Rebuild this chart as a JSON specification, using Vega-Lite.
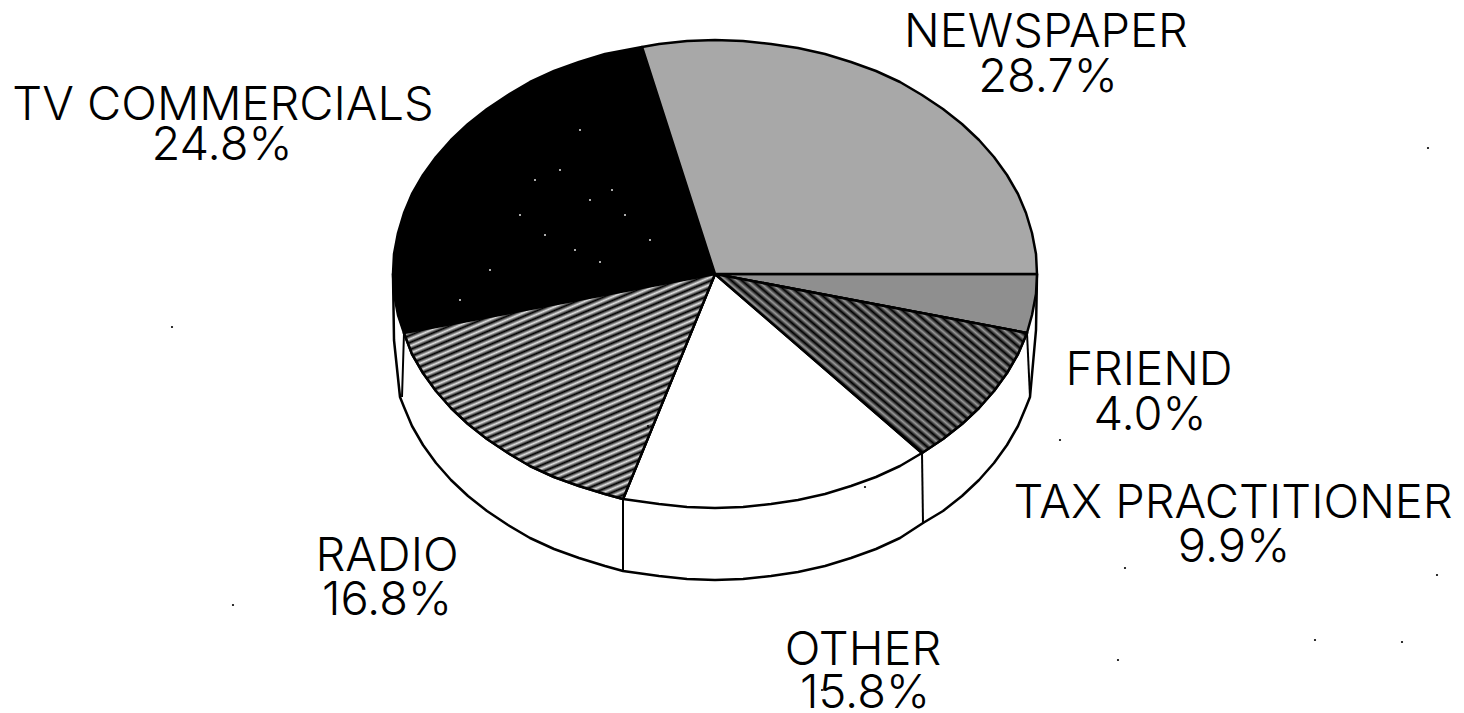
{"$schema":"https://vega.github.io/schema/vega-lite/v6.json","width":1464,"height":713,"padding":0,"autosize":"none","background":"white","config":{"view":{"stroke":null}},"datasets":{"outline":[
{"slice":"rim","seq":1,"x":1037,"y":274},{"slice":"rim","seq":2,"x":1036,"y":330},{"slice":"rim","seq":3,"x":1030,"y":397},{"slice":"rim","seq":4,"x":1026,"y":407},{"slice":"rim","seq":5,"x":1018,"y":426},{"slice":"rim","seq":6,"x":1007,"y":445},{"slice":"rim","seq":7,"x":994,"y":463},{"slice":"rim","seq":8,"x":979,"y":480},{"slice":"rim","seq":9,"x":962,"y":496},{"slice":"rim","seq":10,"x":943,"y":511},{"slice":"rim","seq":11,"x":923,"y":523},{"slice":"rim","seq":12,"x":900,"y":538},{"slice":"rim","seq":13,"x":876,"y":549},{"slice":"rim","seq":14,"x":851,"y":558},{"slice":"rim","seq":15,"x":825,"y":566},{"slice":"rim","seq":16,"x":798,"y":572},{"slice":"rim","seq":17,"x":771,"y":576},{"slice":"rim","seq":18,"x":743,"y":579},{"slice":"rim","seq":19,"x":715,"y":580},{"slice":"rim","seq":20,"x":687,"y":579},{"slice":"rim","seq":21,"x":659,"y":576},{"slice":"rim","seq":22,"x":623,"y":571},{"slice":"rim","seq":23,"x":605,"y":566},{"slice":"rim","seq":24,"x":579,"y":558},{"slice":"rim","seq":25,"x":554,"y":549},{"slice":"rim","seq":26,"x":530,"y":538},{"slice":"rim","seq":27,"x":508,"y":525},{"slice":"rim","seq":28,"x":487,"y":511},{"slice":"rim","seq":29,"x":468,"y":496},{"slice":"rim","seq":30,"x":451,"y":480},{"slice":"rim","seq":31,"x":436,"y":463},{"slice":"rim","seq":32,"x":423,"y":445},{"slice":"rim","seq":33,"x":412,"y":426},{"slice":"rim","seq":34,"x":404,"y":407},{"slice":"rim","seq":35,"x":400,"y":397},{"slice":"rim","seq":36,"x":394,"y":340},{"slice":"rim","seq":37,"x":393,"y":274},{"slice":"rim","seq":38,"x":1037,"y":274},
{"slice":"FRIEND","seq":1,"x":715,"y":274},{"slice":"FRIEND","seq":2,"x":1037,"y":274},{"slice":"FRIEND","seq":3,"x":1036,"y":294},{"slice":"FRIEND","seq":4,"x":1032,"y":315},{"slice":"FRIEND","seq":5,"x":1027,"y":333},{"slice":"FRIEND","seq":6,"x":715,"y":274},
{"slice":"TAX PRACTITIONER","seq":1,"x":715,"y":274},{"slice":"TAX PRACTITIONER","seq":2,"x":1027,"y":333},{"slice":"TAX PRACTITIONER","seq":3,"x":1018,"y":354},{"slice":"TAX PRACTITIONER","seq":4,"x":1007,"y":373},{"slice":"TAX PRACTITIONER","seq":5,"x":994,"y":391},{"slice":"TAX PRACTITIONER","seq":6,"x":979,"y":408},{"slice":"TAX PRACTITIONER","seq":7,"x":962,"y":424},{"slice":"TAX PRACTITIONER","seq":8,"x":943,"y":439},{"slice":"TAX PRACTITIONER","seq":9,"x":922,"y":453},{"slice":"TAX PRACTITIONER","seq":10,"x":715,"y":274},
{"slice":"OTHER","seq":1,"x":715,"y":274},{"slice":"OTHER","seq":2,"x":922,"y":453},{"slice":"OTHER","seq":3,"x":900,"y":466},{"slice":"OTHER","seq":4,"x":876,"y":477},{"slice":"OTHER","seq":5,"x":851,"y":486},{"slice":"OTHER","seq":6,"x":825,"y":494},{"slice":"OTHER","seq":7,"x":798,"y":500},{"slice":"OTHER","seq":8,"x":771,"y":504},{"slice":"OTHER","seq":9,"x":743,"y":507},{"slice":"OTHER","seq":10,"x":715,"y":508},{"slice":"OTHER","seq":11,"x":687,"y":507},{"slice":"OTHER","seq":12,"x":659,"y":504},{"slice":"OTHER","seq":13,"x":623,"y":499},{"slice":"OTHER","seq":14,"x":715,"y":274},
{"slice":"RADIO","seq":1,"x":715,"y":274},{"slice":"RADIO","seq":2,"x":623,"y":499},{"slice":"RADIO","seq":3,"x":605,"y":494},{"slice":"RADIO","seq":4,"x":579,"y":486},{"slice":"RADIO","seq":5,"x":554,"y":477},{"slice":"RADIO","seq":6,"x":530,"y":466},{"slice":"RADIO","seq":7,"x":508,"y":453},{"slice":"RADIO","seq":8,"x":487,"y":439},{"slice":"RADIO","seq":9,"x":468,"y":424},{"slice":"RADIO","seq":10,"x":451,"y":408},{"slice":"RADIO","seq":11,"x":436,"y":391},{"slice":"RADIO","seq":12,"x":423,"y":373},{"slice":"RADIO","seq":13,"x":412,"y":354},{"slice":"RADIO","seq":14,"x":404,"y":333},{"slice":"RADIO","seq":15,"x":715,"y":274},
{"slice":"TV COMMERCIALS","seq":1,"x":715,"y":274},{"slice":"TV COMMERCIALS","seq":2,"x":404,"y":333},{"slice":"TV COMMERCIALS","seq":3,"x":398,"y":315},{"slice":"TV COMMERCIALS","seq":4,"x":394,"y":294},{"slice":"TV COMMERCIALS","seq":5,"x":393,"y":274},{"slice":"TV COMMERCIALS","seq":6,"x":394,"y":254},{"slice":"TV COMMERCIALS","seq":7,"x":398,"y":233},{"slice":"TV COMMERCIALS","seq":8,"x":404,"y":213},{"slice":"TV COMMERCIALS","seq":9,"x":412,"y":194},{"slice":"TV COMMERCIALS","seq":10,"x":423,"y":175},{"slice":"TV COMMERCIALS","seq":11,"x":436,"y":157},{"slice":"TV COMMERCIALS","seq":12,"x":451,"y":140},{"slice":"TV COMMERCIALS","seq":13,"x":468,"y":124},{"slice":"TV COMMERCIALS","seq":14,"x":487,"y":109},{"slice":"TV COMMERCIALS","seq":15,"x":508,"y":95},{"slice":"TV COMMERCIALS","seq":16,"x":530,"y":82},{"slice":"TV COMMERCIALS","seq":17,"x":554,"y":71},{"slice":"TV COMMERCIALS","seq":18,"x":579,"y":62},{"slice":"TV COMMERCIALS","seq":19,"x":605,"y":54},{"slice":"TV COMMERCIALS","seq":20,"x":642,"y":47},{"slice":"TV COMMERCIALS","seq":21,"x":715,"y":274},
{"slice":"NEWSPAPER","seq":1,"x":715,"y":274},{"slice":"NEWSPAPER","seq":2,"x":642,"y":47},{"slice":"NEWSPAPER","seq":3,"x":659,"y":44},{"slice":"NEWSPAPER","seq":4,"x":687,"y":41},{"slice":"NEWSPAPER","seq":5,"x":715,"y":40},{"slice":"NEWSPAPER","seq":6,"x":743,"y":41},{"slice":"NEWSPAPER","seq":7,"x":771,"y":44},{"slice":"NEWSPAPER","seq":8,"x":798,"y":48},{"slice":"NEWSPAPER","seq":9,"x":825,"y":54},{"slice":"NEWSPAPER","seq":10,"x":851,"y":62},{"slice":"NEWSPAPER","seq":11,"x":876,"y":71},{"slice":"NEWSPAPER","seq":12,"x":900,"y":82},{"slice":"NEWSPAPER","seq":13,"x":922,"y":95},{"slice":"NEWSPAPER","seq":14,"x":943,"y":109},{"slice":"NEWSPAPER","seq":15,"x":962,"y":124},{"slice":"NEWSPAPER","seq":16,"x":979,"y":140},{"slice":"NEWSPAPER","seq":17,"x":994,"y":157},{"slice":"NEWSPAPER","seq":18,"x":1007,"y":175},{"slice":"NEWSPAPER","seq":19,"x":1018,"y":194},{"slice":"NEWSPAPER","seq":20,"x":1026,"y":213},{"slice":"NEWSPAPER","seq":21,"x":1032,"y":233},{"slice":"NEWSPAPER","seq":22,"x":1036,"y":254},{"slice":"NEWSPAPER","seq":23,"x":1037,"y":274},{"slice":"NEWSPAPER","seq":24,"x":715,"y":274}
],"dividers":[
{"edge":"a","seq":1,"x":1027,"y":333},{"edge":"a","seq":2,"x":1030,"y":397},
{"edge":"b","seq":1,"x":922,"y":453},{"edge":"b","seq":2,"x":923,"y":523},
{"edge":"c","seq":1,"x":623,"y":499},{"edge":"c","seq":2,"x":623,"y":571},
{"edge":"d","seq":1,"x":404,"y":333},{"edge":"d","seq":2,"x":402,"y":397}
],"labels":[
{"slice":"NEWSPAPER","share":0.287,"nameX":1046,"nameY":47,"shareX":1048,"shareY":92},
{"slice":"TV COMMERCIALS","share":0.248,"nameX":223,"nameY":120,"shareX":222,"shareY":160},
{"slice":"FRIEND","share":0.04,"nameX":1149,"nameY":385,"shareX":1150,"shareY":430},
{"slice":"TAX PRACTITIONER","share":0.099,"nameX":1233,"nameY":518,"shareX":1234,"shareY":562},
{"slice":"RADIO","share":0.168,"nameX":387,"nameY":571,"shareX":387,"shareY":615},
{"slice":"OTHER","share":0.158,"nameX":863,"nameY":665,"shareX":865,"shareY":708}
],"specks":[{"x":172,"y":327},{"x":233,"y":605},{"x":1428,"y":148},{"x":1125,"y":568},{"x":648,"y":426},{"x":865,"y":487},{"x":1118,"y":660},{"x":1315,"y":640},{"x":1402,"y":642},{"x":1437,"y":575},{"x":1060,"y":440},{"x":822,"y":690}],
"whiteSpecks":[{"x":535,"y":180},{"x":560,"y":170},{"x":590,"y":200},{"x":612,"y":190},{"x":625,"y":215},{"x":545,"y":235},{"x":575,"y":250},{"x":600,"y":262},{"x":520,"y":215},{"x":490,"y":270},{"x":650,"y":240},{"x":580,"y":130},{"x":460,"y":300}]},
"layer":[
{"data":{"name":"outline"},"mark":{"type":"line","stroke":"black","strokeWidth":2.5,"strokeJoin":"round"},"encoding":{"x":{"field":"x","type":"quantitative","scale":{"domain":[0,1464],"nice":false,"zero":false},"axis":null},"y":{"field":"y","type":"quantitative","scale":{"domain":[713,0],"nice":false,"zero":false},"axis":null},"order":{"field":"seq","type":"quantitative"},"fill":{"field":"slice","type":"nominal","legend":null,"scale":{"domain":["rim","FRIEND","TAX PRACTITIONER","OTHER","RADIO","TV COMMERCIALS","NEWSPAPER"],"range":["#ffffff","#8f8f8f","#404040","#ffffff","#707070","#000000","#a8a8a8"]}},"detail":{"field":"slice"}}},
{"data":{"name":"outline"},"transform":[{"filter":"datum.slice === 'RADIO'"}],"mark":{"type":"line","stroke":"black","strokeWidth":2.5,"strokeJoin":"round","fill":{"gradient":"linear","x1":0,"y1":0,"x2":0.684,"y2":1.183,"stops":[{"offset":0,"color":"#000"},{"offset":0.01,"color":"#e0e0e0"},{"offset":0.02,"color":"#000"},{"offset":0.03,"color":"#e0e0e0"},{"offset":0.04,"color":"#000"},{"offset":0.05,"color":"#e0e0e0"},{"offset":0.06,"color":"#000"},{"offset":0.07,"color":"#e0e0e0"},{"offset":0.08,"color":"#000"},{"offset":0.09,"color":"#e0e0e0"},{"offset":0.1,"color":"#000"},{"offset":0.11,"color":"#e0e0e0"},{"offset":0.12,"color":"#000"},{"offset":0.13,"color":"#e0e0e0"},{"offset":0.14,"color":"#000"},{"offset":0.15,"color":"#e0e0e0"},{"offset":0.16,"color":"#000"},{"offset":0.17,"color":"#e0e0e0"},{"offset":0.18,"color":"#000"},{"offset":0.19,"color":"#e0e0e0"},{"offset":0.2,"color":"#000"},{"offset":0.21,"color":"#e0e0e0"},{"offset":0.22,"color":"#000"},{"offset":0.23,"color":"#e0e0e0"},{"offset":0.24,"color":"#000"},{"offset":0.25,"color":"#e0e0e0"},{"offset":0.26,"color":"#000"},{"offset":0.27,"color":"#e0e0e0"},{"offset":0.28,"color":"#000"},{"offset":0.29,"color":"#e0e0e0"},{"offset":0.3,"color":"#000"},{"offset":0.31,"color":"#e0e0e0"},{"offset":0.32,"color":"#000"},{"offset":0.33,"color":"#e0e0e0"},{"offset":0.34,"color":"#000"},{"offset":0.35,"color":"#e0e0e0"},{"offset":0.36,"color":"#000"},{"offset":0.37,"color":"#e0e0e0"},{"offset":0.38,"color":"#000"},{"offset":0.39,"color":"#e0e0e0"},{"offset":0.4,"color":"#000"},{"offset":0.41,"color":"#e0e0e0"},{"offset":0.42,"color":"#000"},{"offset":0.43,"color":"#e0e0e0"},{"offset":0.44,"color":"#000"},{"offset":0.45,"color":"#e0e0e0"},{"offset":0.46,"color":"#000"},{"offset":0.47,"color":"#e0e0e0"},{"offset":0.48,"color":"#000"},{"offset":0.49,"color":"#e0e0e0"},{"offset":0.5,"color":"#000"},{"offset":0.51,"color":"#e0e0e0"},{"offset":0.52,"color":"#000"},{"offset":0.53,"color":"#e0e0e0"},{"offset":0.54,"color":"#000"},{"offset":0.55,"color":"#e0e0e0"},{"offset":0.56,"color":"#000"},{"offset":0.57,"color":"#e0e0e0"},{"offset":0.58,"color":"#000"},{"offset":0.59,"color":"#e0e0e0"},{"offset":0.6,"color":"#000"},{"offset":0.61,"color":"#e0e0e0"},{"offset":0.62,"color":"#000"},{"offset":0.63,"color":"#e0e0e0"},{"offset":0.64,"color":"#000"},{"offset":0.65,"color":"#e0e0e0"},{"offset":0.66,"color":"#000"},{"offset":0.67,"color":"#e0e0e0"},{"offset":0.68,"color":"#000"},{"offset":0.69,"color":"#e0e0e0"},{"offset":0.7,"color":"#000"},{"offset":0.71,"color":"#e0e0e0"},{"offset":0.72,"color":"#000"},{"offset":0.73,"color":"#e0e0e0"},{"offset":0.74,"color":"#000"},{"offset":0.75,"color":"#e0e0e0"},{"offset":0.76,"color":"#000"},{"offset":0.77,"color":"#e0e0e0"},{"offset":0.78,"color":"#000"},{"offset":0.79,"color":"#e0e0e0"},{"offset":0.8,"color":"#000"},{"offset":0.81,"color":"#e0e0e0"},{"offset":0.82,"color":"#000"},{"offset":0.83,"color":"#e0e0e0"},{"offset":0.84,"color":"#000"},{"offset":0.85,"color":"#e0e0e0"},{"offset":0.86,"color":"#000"},{"offset":0.87,"color":"#e0e0e0"},{"offset":0.88,"color":"#000"},{"offset":0.89,"color":"#e0e0e0"},{"offset":0.9,"color":"#000"},{"offset":0.91,"color":"#e0e0e0"},{"offset":0.92,"color":"#000"},{"offset":0.93,"color":"#e0e0e0"},{"offset":0.94,"color":"#000"},{"offset":0.95,"color":"#e0e0e0"},{"offset":0.96,"color":"#000"},{"offset":0.97,"color":"#e0e0e0"},{"offset":0.98,"color":"#000"},{"offset":0.99,"color":"#e0e0e0"},{"offset":1,"color":"#000"}]}},"encoding":{"x":{"field":"x","type":"quantitative","axis":null},"y":{"field":"y","type":"quantitative","axis":null},"order":{"field":"seq","type":"quantitative"}}},
{"data":{"name":"outline"},"transform":[{"filter":"datum.slice === 'TAX PRACTITIONER'"}],"mark":{"type":"line","stroke":"black","strokeWidth":2.5,"strokeJoin":"round","fill":{"gradient":"linear","x1":0,"y1":1,"x2":1.15,"y2":0.223,"stops":[{"offset":0,"color":"#000"},{"offset":0.01,"color":"#999"},{"offset":0.02,"color":"#000"},{"offset":0.03,"color":"#999"},{"offset":0.04,"color":"#000"},{"offset":0.05,"color":"#999"},{"offset":0.06,"color":"#000"},{"offset":0.07,"color":"#999"},{"offset":0.08,"color":"#000"},{"offset":0.09,"color":"#999"},{"offset":0.1,"color":"#000"},{"offset":0.11,"color":"#999"},{"offset":0.12,"color":"#000"},{"offset":0.13,"color":"#999"},{"offset":0.14,"color":"#000"},{"offset":0.15,"color":"#999"},{"offset":0.16,"color":"#000"},{"offset":0.17,"color":"#999"},{"offset":0.18,"color":"#000"},{"offset":0.19,"color":"#999"},{"offset":0.2,"color":"#000"},{"offset":0.21,"color":"#999"},{"offset":0.22,"color":"#000"},{"offset":0.23,"color":"#999"},{"offset":0.24,"color":"#000"},{"offset":0.25,"color":"#999"},{"offset":0.26,"color":"#000"},{"offset":0.27,"color":"#999"},{"offset":0.28,"color":"#000"},{"offset":0.29,"color":"#999"},{"offset":0.3,"color":"#000"},{"offset":0.31,"color":"#999"},{"offset":0.32,"color":"#000"},{"offset":0.33,"color":"#999"},{"offset":0.34,"color":"#000"},{"offset":0.35,"color":"#999"},{"offset":0.36,"color":"#000"},{"offset":0.37,"color":"#999"},{"offset":0.38,"color":"#000"},{"offset":0.39,"color":"#999"},{"offset":0.4,"color":"#000"},{"offset":0.41,"color":"#999"},{"offset":0.42,"color":"#000"},{"offset":0.43,"color":"#999"},{"offset":0.44,"color":"#000"},{"offset":0.45,"color":"#999"},{"offset":0.46,"color":"#000"},{"offset":0.47,"color":"#999"},{"offset":0.48,"color":"#000"},{"offset":0.49,"color":"#999"},{"offset":0.5,"color":"#000"},{"offset":0.51,"color":"#999"},{"offset":0.52,"color":"#000"},{"offset":0.53,"color":"#999"},{"offset":0.54,"color":"#000"},{"offset":0.55,"color":"#999"},{"offset":0.56,"color":"#000"},{"offset":0.57,"color":"#999"},{"offset":0.58,"color":"#000"},{"offset":0.59,"color":"#999"},{"offset":0.6,"color":"#000"},{"offset":0.61,"color":"#999"},{"offset":0.62,"color":"#000"},{"offset":0.63,"color":"#999"},{"offset":0.64,"color":"#000"},{"offset":0.65,"color":"#999"},{"offset":0.66,"color":"#000"},{"offset":0.67,"color":"#999"},{"offset":0.68,"color":"#000"},{"offset":0.69,"color":"#999"},{"offset":0.7,"color":"#000"},{"offset":0.71,"color":"#999"},{"offset":0.72,"color":"#000"},{"offset":0.73,"color":"#999"},{"offset":0.74,"color":"#000"},{"offset":0.75,"color":"#999"},{"offset":0.76,"color":"#000"},{"offset":0.77,"color":"#999"},{"offset":0.78,"color":"#000"},{"offset":0.79,"color":"#999"},{"offset":0.8,"color":"#000"},{"offset":0.81,"color":"#999"},{"offset":0.82,"color":"#000"},{"offset":0.83,"color":"#999"},{"offset":0.84,"color":"#000"},{"offset":0.85,"color":"#999"},{"offset":0.86,"color":"#000"},{"offset":0.87,"color":"#999"},{"offset":0.88,"color":"#000"},{"offset":0.89,"color":"#999"},{"offset":0.9,"color":"#000"},{"offset":0.91,"color":"#999"},{"offset":0.92,"color":"#000"},{"offset":0.93,"color":"#999"},{"offset":0.94,"color":"#000"},{"offset":0.95,"color":"#999"},{"offset":0.96,"color":"#000"},{"offset":0.97,"color":"#999"},{"offset":0.98,"color":"#000"},{"offset":0.99,"color":"#999"},{"offset":1,"color":"#000"}]}},"encoding":{"x":{"field":"x","type":"quantitative","axis":null},"y":{"field":"y","type":"quantitative","axis":null},"order":{"field":"seq","type":"quantitative"}}},
{"data":{"name":"dividers"},"mark":{"type":"line","stroke":"black","strokeWidth":2},"encoding":{"x":{"field":"x","type":"quantitative","axis":null},"y":{"field":"y","type":"quantitative","axis":null},"order":{"field":"seq","type":"quantitative"},"detail":{"field":"edge"}}},
{"data":{"name":"labels"},"mark":{"type":"text","font":"Inter","fontWeight":300,"fontSize":47,"align":"center","baseline":"alphabetic","color":"black"},"encoding":{"x":{"field":"nameX","type":"quantitative","axis":null},"y":{"field":"nameY","type":"quantitative","axis":null},"text":{"field":"slice"}}},
{"data":{"name":"labels"},"mark":{"type":"text","font":"Inter","fontWeight":300,"fontSize":47,"align":"center","baseline":"alphabetic","color":"black"},"encoding":{"x":{"field":"shareX","type":"quantitative","axis":null},"y":{"field":"shareY","type":"quantitative","axis":null},"text":{"field":"share","type":"quantitative","format":".1%"}}},
{"data":{"name":"specks"},"mark":{"type":"point","filled":true,"color":"black","size":5,"opacity":1},"encoding":{"x":{"field":"x","type":"quantitative","axis":null},"y":{"field":"y","type":"quantitative","axis":null}}},
{"data":{"name":"whiteSpecks"},"mark":{"type":"point","filled":true,"color":"white","size":4,"opacity":0.9},"encoding":{"x":{"field":"x","type":"quantitative","axis":null},"y":{"field":"y","type":"quantitative","axis":null}}}
]}
